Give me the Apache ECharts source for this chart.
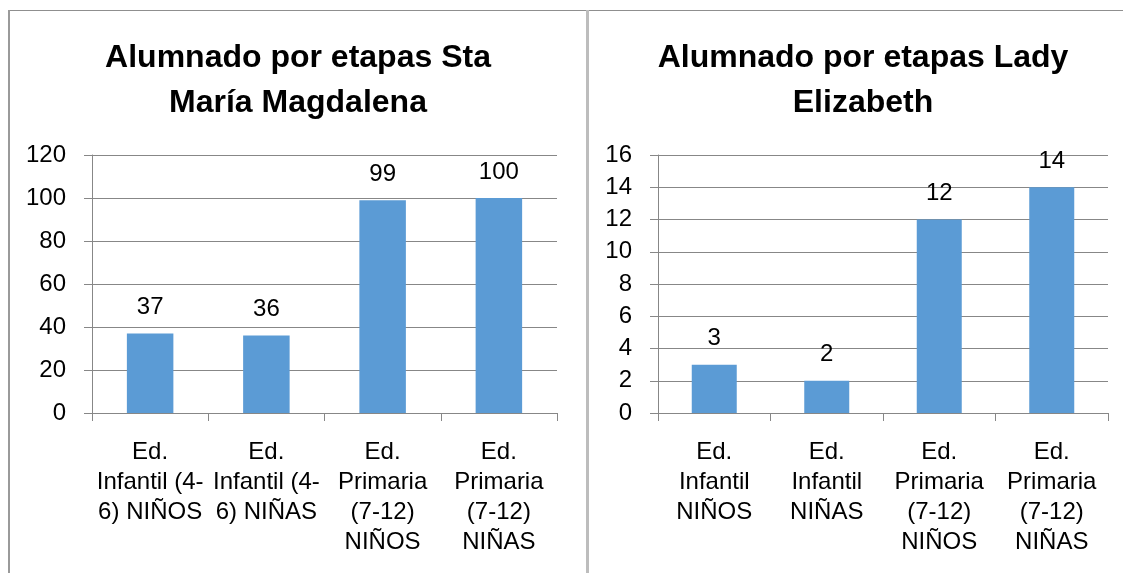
<!DOCTYPE html>
<html>
<head>
<meta charset="utf-8">
<script src="https://cdn.jsdelivr.net/npm/echarts@6/dist/echarts.min.js"></script>
<style>
  html, body { margin: 0; padding: 0; background: #fff; }
  #chart { width: 1123px; height: 573px; }
</style>
</head>
<body>
<div id="chart"></div>
<script>
// datos del gráfico izquierdo
const leftTitle = 'Alumnado por etapas Sta\nMaría Magdalena'
const leftCategories = ['Ed.\nInfantil (4-\n6) NIÑOS', 'Ed.\nInfantil (4-\n6) NIÑAS', 'Ed.\nPrimaria\n(7-12)\nNIÑOS', 'Ed.\nPrimaria\n(7-12)\nNIÑAS']
const leftValues = [37, 36, 99, 100]
const leftTicks = { min: 0, max: 120, interval: 20 }

// datos del gráfico derecho
const rightTitle = 'Alumnado por etapas Lady\nElizabeth'
const rightCategories = ['Ed.\nInfantil\nNIÑOS', 'Ed.\nInfantil\nNIÑAS', 'Ed.\nPrimaria\n(7-12)\nNIÑOS', 'Ed.\nPrimaria\n(7-12)\nNIÑAS']
const rightValues = [3, 2, 12, 14]
const rightTicks = { min: 0, max: 16, interval: 2 }

const FONT = '"Liberation Sans", Arial, sans-serif'
const GRID_COLOR = '#878787'
const BAR_COLOR = '#5b9bd5'

function xAxis(idx, data) {
  return {
    type: 'category',
    gridIndex: idx,
    data: data,
    axisLine: { lineStyle: { color: GRID_COLOR, width: 1 } },
    axisTick: { show: true, length: 8, lineStyle: { color: GRID_COLOR } },
    axisLabel: {
      interval: 0,
      margin: 24,
      color: '#000',
      fontFamily: FONT,
      fontSize: 24,
      lineHeight: 30
    }
  }
}

function yAxis(idx, ticks) {
  return {
    type: 'value',
    gridIndex: idx,
    min: ticks.min,
    max: ticks.max,
    interval: ticks.interval,
    axisLine: { show: true, lineStyle: { color: GRID_COLOR, width: 1 } },
    axisTick: { show: true, length: 8, lineStyle: { color: GRID_COLOR } },
    splitLine: { show: true, lineStyle: { color: GRID_COLOR, width: 1 } },
    axisLabel: {
      margin: 26,
      color: '#000',
      fontFamily: FONT,
      fontSize: 24
    }
  }
}

function barSeries(idx, values) {
  return {
    type: 'bar',
    xAxisIndex: idx,
    yAxisIndex: idx,
    data: values,
    barCategoryGap: '60%',
    itemStyle: { color: BAR_COLOR },
    label: {
      show: true,
      position: 'top',
      distance: 14,
      color: '#000',
      fontFamily: FONT,
      fontSize: 24
    },
    silent: true
  }
}

function titleOf(text, x) {
  return {
    text: text,
    left: x,
    top: 36,
    padding: 0,
    textAlign: 'center',
    textStyle: {
      color: '#000',
      fontFamily: FONT,
      fontWeight: 'bold',
      fontSize: 32,
      lineHeight: 45
    }
  }
}

const myChart = echarts.init(document.getElementById('chart'))
const option = {
  animation: false,
  backgroundColor: '#fff',
  title: [titleOf(leftTitle, 298), titleOf(rightTitle, 863)],
  grid: [
    { left: 92, top: 155, width: 465, height: 258 },
    { left: 658, top: 155, width: 450, height: 258 }
  ],
  xAxis: [xAxis(0, leftCategories), xAxis(1, rightCategories)],
  yAxis: [yAxis(0, leftTicks), yAxis(1, rightTicks)],
  series: [barSeries(0, leftValues), barSeries(1, rightValues)],
  // marcos de los gráficos
  graphic: [
    { type: 'rect', shape: { x: 8, y: 10, width: 1115, height: 1 }, style: { fill: '#8f8f8f' }, silent: true },
    { type: 'rect', shape: { x: 8, y: 10, width: 2, height: 563 }, style: { fill: '#9a9a9a' }, silent: true },
    { type: 'rect', shape: { x: 586, y: 10, width: 3, height: 563 }, style: { fill: '#bdbdbd' }, silent: true }
  ]
}
myChart.setOption(option)
</script>
</body>
</html>
